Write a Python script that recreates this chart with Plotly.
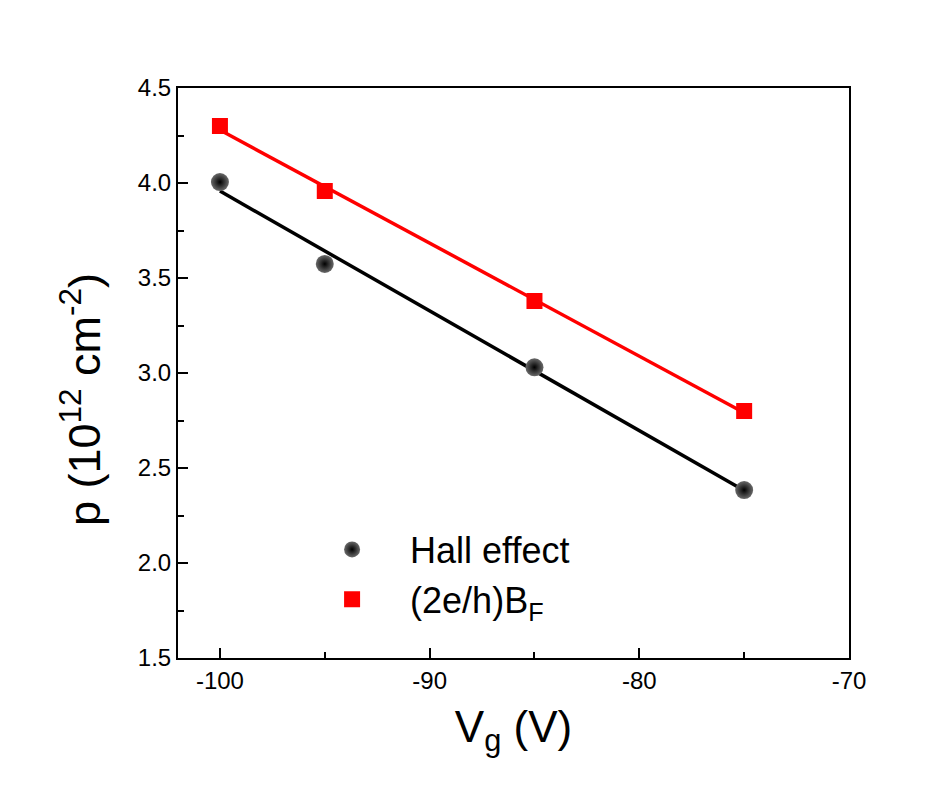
import numpy as np
import plotly.graph_objects as go

vg = [-100, -95, -85, -75]
hall = [4.005, 3.574, 3.03, 2.384]
bf = [4.30, 3.958, 3.379, 2.80]
names = ["Hall effect", "(2e/h)B<sub>F</sub>"]
x_ticks = [-100, -90, -80, -70]
x_ticklabels = ["-100", "-90", "-80", "-70"]
y_ticks = [1.5, 2.0, 2.5, 3.0, 3.5, 4.0, 4.5]
y_ticklabels = ["1.5", "2.0", "2.5", "3.0", "3.5", "4.0", "4.5"]

FONT = "Arial, Liberation Sans, sans-serif"

fig = go.Figure()

# linear fits
for ys, col in [(hall, "black"), (bf, "#ff0000")]:
    p = np.polyfit(vg, ys, 1)
    xs = np.array([min(vg), max(vg)])
    fig.add_trace(go.Scatter(x=xs, y=np.polyval(p, xs), mode="lines",
                             line=dict(color=col, width=3.5), showlegend=False,
                             hoverinfo="skip"))

fig.add_trace(go.Scatter(x=vg, y=hall, mode="markers", name=names[0],
                         marker=dict(symbol="circle", size=18, color="#6a6a6a",
                                     gradient=dict(type="radial", color="black"),
                                     line=dict(width=0))))
fig.add_trace(go.Scatter(x=vg, y=bf, mode="markers", name=names[1],
                         marker=dict(symbol="square", size=16, color="#ff0000",
                                     line=dict(width=0))))

axis_common = dict(showline=True, linecolor="black", linewidth=2, mirror=True,
                   ticks="inside", ticklen=10, tickwidth=2, tickcolor="black",
                   showgrid=False, zeroline=False,
                   tickfont=dict(family=FONT, size=24, color="black"))

fig.update_xaxes(range=[-102, -70], tickmode="array", tickvals=x_ticks, ticktext=x_ticklabels,
                 minor=dict(ticks="inside", ticklen=6, tickwidth=2, tickcolor="black",
                            tickmode="linear", tick0=-100, dtick=5),
                 title=dict(text="V<sub>g</sub> (V)", font=dict(family=FONT, size=44, color="black"),
                            standoff=18),
                 **axis_common)
fig.update_yaxes(range=[1.5, 4.5], tickmode="array", tickvals=y_ticks, ticktext=y_ticklabels,
                 minor=dict(ticks="inside", ticklen=6, tickwidth=2, tickcolor="black",
                            tickmode="linear", tick0=1.5, dtick=0.25),
                 **axis_common)

fig.add_annotation(text="p (10<sup>12</sup> cm<sup>-2</sup>)", textangle=-90,
                   xref="paper", yref="paper", x=-0.1445, y=0.4526,
                   xanchor="center", yanchor="middle", showarrow=False,
                   font=dict(family=FONT, size=45, color="black"))

fig.update_layout(
    width=951, height=787,
    margin=dict(l=170, r=110, t=80, b=137),
    paper_bgcolor="white", plot_bgcolor="white",
    legend=dict(x=0.173, y=0.243, xanchor="left", yanchor="top",
                bgcolor="rgba(0,0,0,0)", font=dict(family=FONT, size=36, color="black"),
                itemwidth=106, tracegroupgap=0),
)

fig.write_html("out.html")
